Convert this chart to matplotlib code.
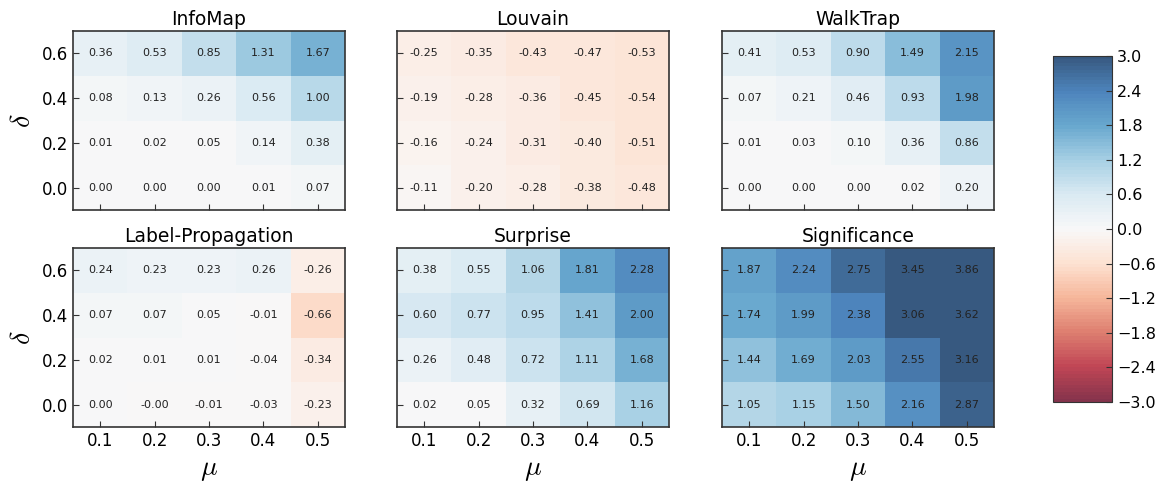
import matplotlib.pyplot as plt
import numpy as np

mu = [0.1, 0.2, 0.3, 0.4, 0.5]
delta = [0.0, 0.2, 0.4, 0.6]

# rows are delta = 0.0, 0.2, 0.4, 0.6
infomap = np.array([[0.00, 0.00, 0.00, 0.01, 0.07],
                    [0.01, 0.02, 0.05, 0.14, 0.38],
                    [0.08, 0.13, 0.26, 0.56, 1.00],
                    [0.36, 0.53, 0.85, 1.31, 1.67]])
louvain = np.array([[-0.11, -0.20, -0.28, -0.38, -0.48],
                    [-0.16, -0.24, -0.31, -0.40, -0.51],
                    [-0.19, -0.28, -0.36, -0.45, -0.54],
                    [-0.25, -0.35, -0.43, -0.47, -0.53]])
walktrap = np.array([[0.00, 0.00, 0.00, 0.02, 0.20],
                     [0.01, 0.03, 0.10, 0.36, 0.86],
                     [0.07, 0.21, 0.46, 0.93, 1.98],
                     [0.41, 0.53, 0.90, 1.49, 2.15]])
labelprop = np.array([[0.00, -0.001, -0.01, -0.03, -0.23],
                      [0.02, 0.01, 0.01, -0.04, -0.34],
                      [0.07, 0.07, 0.05, -0.01, -0.66],
                      [0.24, 0.23, 0.23, 0.26, -0.26]])
surprise = np.array([[0.02, 0.05, 0.32, 0.69, 1.16],
                     [0.26, 0.48, 0.72, 1.11, 1.68],
                     [0.60, 0.77, 0.95, 1.41, 2.00],
                     [0.38, 0.55, 1.06, 1.81, 2.28]])
significance = np.array([[1.05, 1.15, 1.50, 2.16, 2.87],
                         [1.44, 1.69, 2.03, 2.55, 3.16],
                         [1.74, 1.99, 2.38, 3.06, 3.62],
                         [1.87, 2.24, 2.75, 3.45, 3.86]])

titles = ['InfoMap', 'Louvain', 'WalkTrap', 'Label-Propagation', 'Surprise', 'Significance']
datas = [infomap, louvain, walktrap, labelprop, surprise, significance]

plt.rcParams['mathtext.fontset'] = 'cm'

cmap = plt.get_cmap('RdBu', 100)
xedges = np.linspace(0.05, 0.55, 6)
yedges = np.linspace(-0.1, 0.7, 5)

fig = plt.figure(figsize=(11.68, 4.83), dpi=100)
lefts = [0.0625, 0.3399, 0.6182]
bottoms = [0.5652, 0.1159]
w, h = 0.2329, 0.3706

for i, (title, data) in enumerate(zip(titles, datas)):
    r, c = divmod(i, 3)
    ax = fig.add_axes([lefts[c], bottoms[r], w, h])
    ax.pcolormesh(xedges, yedges, data, cmap=cmap, vmin=-3, vmax=3, alpha=0.8)
    for yi, d in enumerate(delta):
        for xi, m in enumerate(mu):
            ax.text(m, d, '%.2f' % data[yi, xi], ha='center', va='center',
                    fontsize=8, color='#222222')
    ax.set_xlim(0.05, 0.55)
    ax.set_ylim(-0.1, 0.7)
    ax.set_xticks(mu)
    ax.set_yticks(delta)
    ax.tick_params(direction='in', length=4, labelsize=12, top=False, right=False,
                   color='#333333')
    for s in ax.spines.values():
        s.set_color('#333333')
        s.set_linewidth(1.2)
    ax.set_title(title, fontsize=13.5, pad=4)
    if c == 0:
        ax.set_yticklabels(['0.0', '0.2', '0.4', '0.6'])
        ax.set_ylabel(r'$\delta$', fontsize=20)
    else:
        ax.set_yticklabels([])
    if r == 1:
        ax.set_xticklabels(['0.1', '0.2', '0.3', '0.4', '0.5'])
        ax.set_xlabel(r'$\mu$', fontsize=20)
    else:
        ax.set_xticklabels([])

cax = fig.add_axes([0.9015, 0.1677, 0.0505, 0.7164])
sm = plt.cm.ScalarMappable(cmap=cmap, norm=plt.Normalize(-3, 3))
cb = fig.colorbar(sm, cax=cax, alpha=0.8)
cb.set_ticks(np.arange(-3.0, 3.01, 0.6))
cb.ax.tick_params(direction='in', length=4, labelsize=11.5, color='#333333')
cb.outline.set_edgecolor('#333333')

fig.savefig('out.png', dpi=100)
